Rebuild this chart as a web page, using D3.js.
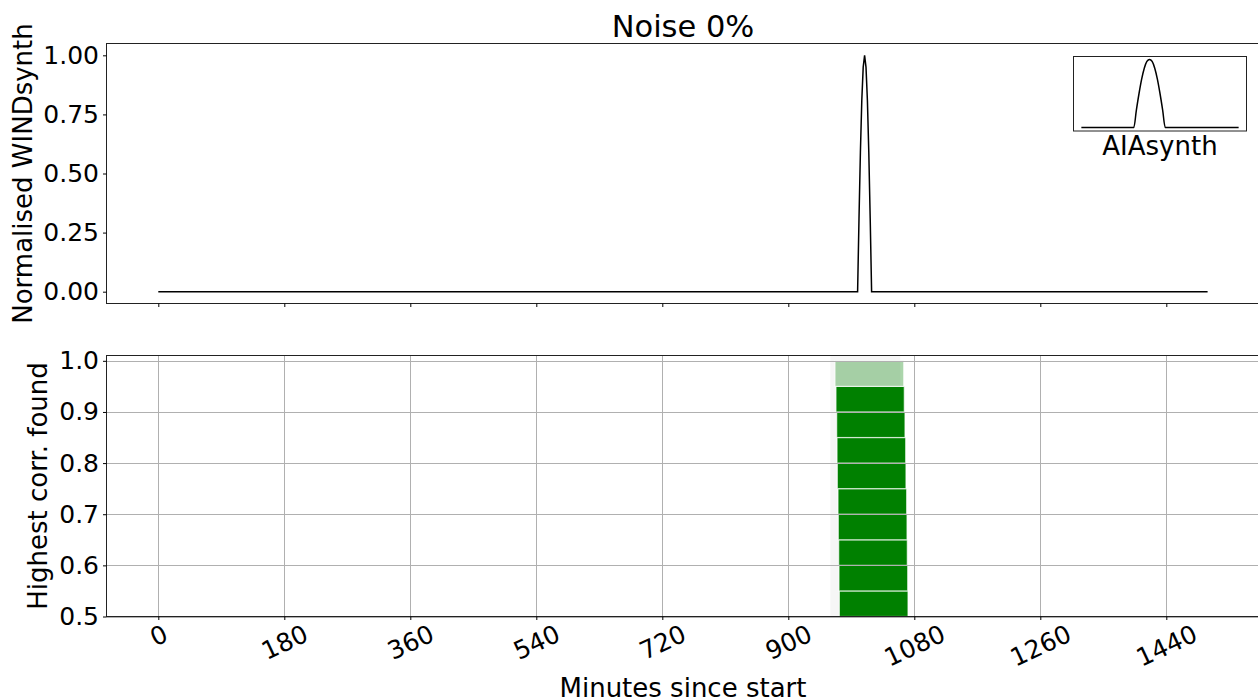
<!DOCTYPE html>
<html>
<head>
<meta charset="utf-8">
<script src="https://cdn.jsdelivr.net/npm/d3@7"></script>
<style>
  body { margin: 0; background: #fff; }
  svg { display: block; font-family: "DejaVu Sans", sans-serif; }
</style>
</head>
<body>
<svg id="chart" width="1258" height="700"></svg>
<script>
(function() {

  // wind pulse (minutes since start, normalised value)
  var windT = [0, 999, 1001, 1003, 1005, 1007, 1009, 1011, 1013, 1015, 1017, 1019, 1499];
  var windV = [0, 0, 0.31, 0.59, 0.81, 0.95, 1.0, 0.95, 0.81, 0.59, 0.31, 0, 0];

  // inset AIA pulse (sample index, value)
  var aiaT = [0, 20, 21, 22, 23, 24, 25, 26, 27, 28, 29, 30, 31, 32, 60];
  var aiaV = [0, 0, 0.26, 0.5, 0.71, 0.87, 0.97, 1.0, 0.97, 0.87, 0.71, 0.5, 0.26, 0, 0];

  // correlation tiles: lower bound, window start / end (minutes)
  var corrLevel = [0.50, 0.55, 0.60, 0.65, 0.70, 0.75, 0.80, 0.85, 0.90, 0.95];
  var corrStart = [972.9, 972.4, 972.0, 971.4, 971.0, 970.0, 969.6, 969.1, 968.1, 966.7];
  var corrEnd = [1071.0, 1070.6, 1070.0, 1069.6, 1069.1, 1068.1, 1067.7, 1066.7, 1065.7, 1064.9];
  var corrBest = [false, false, false, false, false, false, false, false, false, true];
  var bandRange = [960, 1060];

  var xTicks = [0, 180, 360, 540, 720, 900, 1080, 1260, 1440];
  var topTicks = [0, 0.25, 0.5, 0.75, 1.0];
  var botTicks = [0.5, 0.6, 0.7, 0.8, 0.9, 1.0];

  var svg = d3.select("#chart");
  var FS = 25;   // tick labels
  var LS = 26;   // axis labels

  var x = d3.scaleLinear().domain([-74, 1574]).range([106.5, 1260.1]);
  var yTop = d3.scaleLinear().domain([-0.05, 1.05]).range([303.5, 43.5]);
  var yBot = d3.scaleLinear().domain([0.5, 1.0104]).range([616.5, 355.5]);

  // ---- top panel ----
  var top = svg.append("g");

  var line = d3.line().x(d => x(d[0])).y(d => yTop(d[1]));
  top.append("path")
    .datum(windT.map((t, i) => [t, windV[i]]))
    .attr("d", line)
    .attr("fill", "none")
    .attr("stroke", "#000")
    .attr("stroke-width", 1.5);

  top.append("rect")
    .attr("x", 106.5).attr("y", 43.5)
    .attr("width", 1260 - 106.5).attr("height", 260)
    .attr("fill", "none").attr("stroke", "#222").attr("stroke-width", 1);

  top.append("g")
    .attr("transform", "translate(0,303.5)")
    .call(d3.axisBottom(x).tickValues(xTicks).tickFormat("").tickSize(3.5))
    .call(g => g.select(".domain").remove());

  var yAxTop = top.append("g")
    .attr("transform", "translate(106.5,0)")
    .call(d3.axisLeft(yTop).tickValues(topTicks).tickFormat(d3.format(".2f")).tickSize(3.5).tickPadding(4))
    .call(g => g.select(".domain").remove());
  yAxTop.selectAll("text").attr("font-size", FS).attr("font-family", "DejaVu Sans").attr("fill", "#000");

  top.append("text")
    .attr("transform", "translate(31.5,173.5) rotate(-90)")
    .attr("text-anchor", "middle")
    .attr("font-size", LS)
    .text("Normalised WINDsynth");

  svg.append("text")
    .attr("x", 683).attr("y", 37)
    .attr("text-anchor", "middle")
    .attr("font-size", 30.5)
    .text("Noise 0%");

  // inset
  var ix = d3.scaleLinear().domain([-3, 63]).range([1073.5, 1246.5]);
  var iy = d3.scaleLinear().domain([-0.05, 1.05]).range([131, 56]);
  var inset = svg.append("g");
  inset.append("rect")
    .attr("x", 1073.5).attr("y", 56.5)
    .attr("width", 173).attr("height", 74.5)
    .attr("fill", "#fff").attr("stroke", "#222").attr("stroke-width", 1);
  inset.append("path")
    .datum(aiaT.map((t, i) => [t, aiaV[i]]))
    .attr("d", d3.line().x(d => ix(d[0])).y(d => iy(d[1])).curve(d3.curveMonotoneX))
    .attr("fill", "none").attr("stroke", "#000").attr("stroke-width", 1.5);
  inset.append("text")
    .attr("x", 1160).attr("y", 154.5)
    .attr("text-anchor", "middle")
    .attr("font-size", LS)
    .text("AIAsynth");

  // ---- bottom panel ----
  var bot = svg.append("g");

  bot.append("rect")
    .attr("x", x(bandRange[0])).attr("y", yBot(1.0104))
    .attr("width", x(bandRange[1]) - x(bandRange[0]))
    .attr("height", yBot(0.5) - yBot(1.0104))
    .attr("fill", "#000").attr("fill-opacity", 0.035);

  bot.selectAll("rect.tile")
    .data(corrLevel.map((c, i) => ({lo : c, s : corrStart[i], e : corrEnd[i], best : corrBest[i]})))
    .enter().append("rect")
    .attr("class", "tile")
    .attr("x", d => x(d.s))
    .attr("y", d => yBot(d.lo + 0.05))
    .attr("width", d => x(d.e) - x(d.s))
    .attr("height", d => yBot(d.lo) - yBot(d.lo + 0.05))
    .attr("fill", "green")
    .attr("fill-opacity", d => d.best ? 0.33 : 1)
    .attr("stroke", "#fff")
    .attr("stroke-opacity", 0.7)
    .attr("stroke-width", 1.2);

  // grid
  bot.selectAll("line.vgrid")
    .data(xTicks).enter().append("line")
    .attr("x1", d => Math.round(x(d)) + 0.5).attr("x2", d => Math.round(x(d)) + 0.5)
    .attr("y1", 355.5).attr("y2", 616.5)
    .attr("stroke", "#b0b0b0").attr("stroke-width", 1);
  bot.selectAll("line.hgrid")
    .data(botTicks).enter().append("line")
    .attr("x1", 106.5).attr("x2", 1260)
    .attr("y1", d => Math.round(yBot(d)) + 0.5).attr("y2", d => Math.round(yBot(d)) + 0.5)
    .attr("stroke", "#b0b0b0").attr("stroke-width", 1);

  bot.append("rect")
    .attr("x", 106.5).attr("y", 355.5)
    .attr("width", 1260 - 106.5).attr("height", 261)
    .attr("fill", "none").attr("stroke", "#222").attr("stroke-width", 1);

  var xAxBot = bot.append("g")
    .attr("transform", "translate(0,616.5)")
    .call(d3.axisBottom(x).tickValues(xTicks).tickFormat(d3.format("d")).tickSize(3.5))
    .call(g => g.select(".domain").remove());
  xAxBot.selectAll("text")
    .attr("font-size", FS).attr("font-family", "DejaVu Sans").attr("fill", "#000")
    .attr("y", null).attr("dy", null)
    .attr("dominant-baseline", "central")
    .attr("transform", function() {
      var w = this.getComputedTextLength();
      var hb = w * Math.sin(25 * Math.PI / 180) + FS * Math.cos(25 * Math.PI / 180);
      return "translate(0," + (621 - 616.5 + hb / 2) + ") rotate(-25)";
    });

  var yAxBot = bot.append("g")
    .attr("transform", "translate(106.5,0)")
    .call(d3.axisLeft(yBot).tickValues(botTicks).tickFormat(d3.format(".1f")).tickSize(3.5).tickPadding(4))
    .call(g => g.select(".domain").remove());
  yAxBot.selectAll("text").attr("font-size", FS).attr("font-family", "DejaVu Sans").attr("fill", "#000");

  bot.append("text")
    .attr("transform", "translate(47,486) rotate(-90)")
    .attr("text-anchor", "middle")
    .attr("font-size", LS)
    .text("Highest corr. found");

  svg.append("text")
    .attr("x", 683).attr("y", 697)
    .attr("text-anchor", "middle")
    .attr("font-size", LS)
    .text("Minutes since start");

})();
</script>
</body>
</html>
